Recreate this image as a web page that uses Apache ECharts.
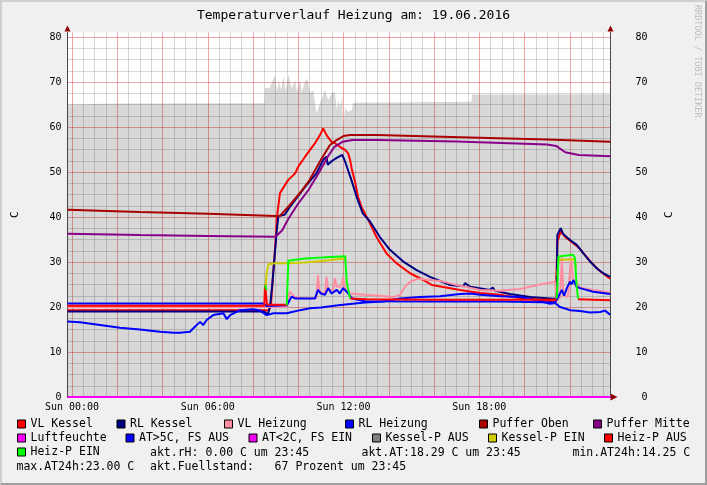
<!DOCTYPE html>
<html><head><meta charset="utf-8">
<script src="https://cdn.jsdelivr.net/npm/echarts@6/dist/echarts.min.js"></script>
<style>
html,body{margin:0;padding:0;background:#F0F0F0}
#wrap{position:relative;width:707px;height:485px}
#c{width:707px;height:485px}
#b{position:absolute;left:0;top:0;width:707px;height:485px;box-sizing:border-box;border-top:2px solid #CFCFCF;border-left:2px solid #CFCFCF;border-right:2px solid #9E9E9E;border-bottom:2px solid #9E9E9E;pointer-events:none}
</style>
</head><body>
<div id="wrap"><div id="c"></div><div id="b"></div></div>
<script>
// ---------- data (time in hours of 19.06.2016, value in C / %) ----------
const xLabelValues = [0, 6, 12, 18];
const xLabelTexts = ['Sun 00:00', 'Sun 06:00', 'Sun 12:00', 'Sun 18:00'];
const yLabelValues = [0, 10, 20, 30, 40, 50, 60, 70, 80];

const fuellstand = [[-0.2,65.0],[2.0,65.2],[4.0,65.2],[6.5,65.3],[8.5,65.3],[8.53,68.6],[8.75,68.8],[8.97,71.6],[9.05,68.0],[9.15,70.1],[9.24,68.2],[9.34,71.2],[9.45,68.0],[9.56,71.6],[9.62,70.5],[9.71,68.6],[9.86,70.4],[9.94,67.8],[10.08,70.4],[10.15,67.8],[10.3,70.1],[10.37,70.8],[10.44,70.0],[10.52,67.5],[10.66,68.2],[10.74,65.3],[10.81,63.0],[10.9,64.5],[11.04,66.4],[11.18,68.2],[11.25,67.0],[11.33,66.0],[11.48,67.5],[11.62,67.8],[11.7,63.8],[11.77,66.0],[11.84,64.5],[11.95,66.7],[11.98,60.0],[12.01,61.6],[12.07,64.2],[12.21,63.4],[12.36,63.8],[12.43,65.4],[15.0,65.5],[17.65,65.6],[17.68,67.2],[23.8,67.3]];

const vlKessel = [[-0.2,19.3],[4.0,19.3],[8.5,19.3],[8.7,19.2],[8.8,21.0],[8.9,28.0],[9.0,35.0],[9.05,39.7],[9.19,45.3],[9.55,48.2],[9.86,49.7],[10.0,51.2],[10.3,53.4],[10.52,54.9],[10.74,56.4],[10.96,58.2],[11.1,59.7],[11.25,58.2],[11.47,56.7],[11.62,56.4],[11.84,55.6],[12.07,54.9],[12.2,54.2],[12.29,52.7],[12.36,50.8],[12.51,47.8],[12.64,44.5],[12.8,42.2],[13.1,39.3],[13.45,35.6],[13.9,31.9],[14.35,29.7],[14.94,27.5],[15.53,26.0],[15.9,24.9],[17.15,23.8],[18.04,23.1],[18.92,22.7],[19.8,22.0],[20.68,21.6],[21.38,21.1],[21.45,34.5],[21.6,36.8],[21.8,35.5],[22.1,34.4],[22.4,33.2],[22.7,31.4],[23.0,29.6],[23.3,28.1],[23.78,26.3]];

const rlKessel = [[-0.2,19.0],[4.0,19.0],[8.5,19.0],[8.65,18.3],[8.75,20.0],[8.85,25.0],[8.95,31.0],[9.05,37.0],[9.12,40.2],[9.4,40.5],[9.6,42.0],[9.9,44.0],[10.3,46.7],[10.8,49.7],[11.1,52.7],[11.25,53.4],[11.3,51.6],[11.45,52.3],[11.65,53.0],[11.8,53.4],[11.95,53.8],[12.1,51.9],[12.35,48.2],[12.6,44.2],[12.85,40.8],[13.17,39.0],[13.6,35.6],[14.05,32.7],[14.64,30.1],[15.23,28.2],[15.82,26.7],[16.71,24.9],[17.3,24.6],[17.37,25.3],[17.6,24.5],[18.47,23.8],[18.6,24.3],[18.7,23.6],[19.36,22.9],[20.24,22.2],[21.42,21.8],[21.45,36.0],[21.6,37.5],[21.71,36.2],[22.01,34.9],[22.31,33.8],[22.6,31.9],[22.9,30.1],[23.19,28.6],[23.48,27.5],[23.78,26.7]];

const vlHeizung = [[-0.2,20.0],[9.5,20.0],[9.56,22.0],[9.62,23.4],[9.7,23.8],[9.83,22.3],[10.3,21.9],[10.8,22.0],[10.87,27.1],[10.94,23.4],[11.18,23.0],[11.25,26.7],[11.32,23.8],[11.55,23.8],[11.62,26.4],[11.7,24.5],[11.9,24.5],[11.98,26.7],[12.06,24.5],[12.29,23.0],[12.95,22.7],[13.6,22.5],[14.2,22.2],[14.5,22.7],[14.7,24.4],[14.94,25.6],[15.3,26.3],[16.26,25.8],[17.15,24.7],[18.04,23.8],[18.92,23.6],[19.8,24.0],[20.68,25.0],[21.35,25.6],[21.42,21.9],[21.57,22.0],[21.65,31.0],[21.72,22.5],[21.92,22.3],[22.05,31.0],[22.15,26.0],[22.3,25.3],[22.45,24.3],[23.04,23.8],[23.78,23.2]];

const rlHeizung = [[-0.2,20.8],[8.45,20.8],[8.6,20.2],[9.5,20.4],[9.7,22.3],[9.86,21.9],[10.74,21.9],[10.87,23.8],[11.0,23.0],[11.18,22.7],[11.32,24.2],[11.47,23.0],[11.7,23.8],[11.84,23.0],[11.98,24.2],[12.14,23.4],[12.38,21.9],[12.95,21.3],[16.0,21.2],[19.0,21.2],[21.35,21.0],[21.5,22.3],[21.65,23.8],[21.75,22.5],[21.87,24.2],[22.01,25.6],[22.08,25.0],[22.16,26.0],[22.3,24.5],[22.45,24.2],[23.04,23.4],[23.78,22.9]];

const pufferOben = [[-0.2,41.6],[3.0,41.1],[6.0,40.7],[9.0,40.2],[9.2,40.3],[9.6,42.5],[10.1,45.5],[10.5,48.2],[11.0,52.7],[11.4,56.0],[11.7,57.1],[12.0,58.0],[12.3,58.2],[13.5,58.2],[18.0,57.6],[21.0,57.2],[23.8,56.7]];

const pufferMitte = [[-0.2,36.3],[3.0,36.0],[6.0,35.8],[9.0,35.6],[9.3,37.1],[9.55,39.5],[10.0,43.0],[10.45,46.0],[10.9,49.7],[11.3,53.4],[11.6,55.6],[11.95,56.7],[12.4,57.1],[13.5,57.1],[17.0,56.8],[21.0,56.1],[21.4,55.8],[21.8,54.4],[22.4,53.8],[23.8,53.5]];

const luftfeuchte = [[-0.2,0],[23.8,0]];

const aussen = [[-0.2,16.8],[0.35,16.6],[1.24,16.0],[2.12,15.4],[3.0,15.0],[3.89,14.5],[4.5,14.3],[4.77,14.3],[5.21,14.5],[5.43,15.6],[5.66,16.7],[5.8,16.0],[5.95,17.1],[6.24,18.2],[6.69,18.6],[6.84,17.3],[6.99,18.2],[7.42,19.3],[8.01,19.5],[8.31,19.2],[8.6,18.2],[8.9,18.6],[9.49,18.6],[10.08,19.3],[10.52,19.7],[11.0,19.9],[11.77,20.4],[12.51,20.8],[12.95,21.0],[13.76,21.2],[14.5,21.9],[15.38,22.2],[16.26,22.4],[17.15,22.9],[17.6,23.0],[18.04,22.7],[18.92,22.4],[19.8,22.2],[20.24,21.8],[20.68,21.3],[21.13,20.7],[21.35,20.9],[21.57,20.0],[22.01,19.3],[22.45,19.1],[22.9,18.8],[23.34,18.9],[23.56,19.2],[23.78,18.3]];

const aussenKalt = [];
const kesselPAus = [];

const kesselPEin = [[8.53,23.0],[8.6,27.5],[8.68,29.5],[8.97,29.7],[9.56,29.7],[10.3,29.9],[11.04,30.2],[12.07,30.8],[12.12,30.8],[12.13,null],[21.45,27.0],[21.5,30.5],[22.2,30.6],[22.28,29.0]];

const heizPAus = [[-0.2,20.3],[8.5,20.3],[8.53,25.0],[8.58,24.6],[8.62,20.5],[9.52,20.5],[9.53,null],[12.29,21.9],[13.0,21.7],[16.0,21.6],[19.0,21.6],[21.42,21.6],[21.44,null],[22.36,21.7],[23.78,21.5]];

const heizPEin = [[8.52,24.9],[8.6,23.8],[8.61,null],[9.49,20.4],[9.56,30.3],[10.3,30.8],[11.04,31.0],[12.07,31.3],[12.14,25.6],[12.29,21.9],[12.3,null],[21.42,21.9],[21.45,24.9],[21.5,31.2],[21.57,31.6],[22.14,31.6],[22.23,30.9],[22.3,25.0],[22.36,21.9]];

const infoRow3 = ['akt.rH: 0.00 C um 23:45', 'akt.AT:18.29 C um 23:45', 'min.AT24h:14.25 C'];
const infoRow4 = ['max.AT24h:23.00 C', 'akt.Fuellstand:   67 Prozent um 23:45'];

// ---------- chart ----------
const FONT = '"DejaVu Sans Mono", monospace';
const xMin = -0.2, xMax = 23.8, yMin = 0, yMax = 81;
const xMajor = [], xMinor = [], yMajor = [], yMinor = [];
for (let h = 0; h < 24; h += 0.5) { if (h % 2 === 0) xMajor.push(h); else xMinor.push(h); }
for (let v = 0; v <= 80; v += 2.5) { if (v % 10 === 0) yMajor.push(v); else yMinor.push(v); }

const AXIS = '#4A4A4A', ARROW = '#8B0000';
const MINOR = 'rgba(150,150,150,0.38)', MAJOR = 'rgba(225,60,60,0.45)';

function ln(name, data, color, extra) {
  return Object.assign({
    name, type: 'line', data, symbol: 'none', showSymbol: false,
    color, itemStyle: { color }, lineStyle: { color, width: 2 },
    animation: false, z: 2
  }, extra || {});
}

const series = [
  { name: 'Fuellstand', type: 'line', data: fuellstand, symbol: 'none', showSymbol: false,
    lineStyle: { width: 0, opacity: 0 }, areaStyle: { color: 'rgba(0,0,0,0.153)', opacity: 1 },
    animation: false, z: 1 },
  ln('VL Kessel', vlKessel, '#FF0000'),
  ln('RL Kessel', rlKessel, '#000080'),
  ln('VL Heizung', vlHeizung, '#FF8DA1'),
  ln('RL Heizung', rlHeizung, '#0000FF'),
  ln('Puffer Oben', pufferOben, '#AA0000'),
  ln('Puffer Mitte', pufferMitte, '#880088'),
  ln('Luftfeuchte', luftfeuchte, '#FF00FF', { clip: false }),
  ln('AT>5C, FS AUS', aussen, '#0000FF'),
  ln('AT<2C, FS EIN', aussenKalt, '#EE00EE'),
  ln('Kessel-P AUS', kesselPAus, '#808080'),
  ln('Kessel-P EIN', kesselPEin, '#CCCC00'),
  ln('Heiz-P AUS', heizPAus, '#FF0000'),
  ln('Heiz-P EIN', heizPEin, '#00FF00')
];

const legendSpots = [
  ['VL Kessel', 17, 418], ['RL Kessel', 116.5, 418], ['VL Heizung', 224, 418],
  ['RL Heizung', 345, 418], ['Puffer Oben', 479, 418], ['Puffer Mitte', 593, 418],
  ['Luftfeuchte', 17, 432], ['AT>5C, FS AUS', 125.5, 432], ['AT<2C, FS EIN', 248.5, 432],
  ['Kessel-P AUS', 372, 432], ['Kessel-P EIN', 488, 432], ['Heiz-P AUS', 604, 432],
  ['Heiz-P EIN', 17, 446]
];
const legends = legendSpots.map(([n, l, t]) => ({
  data: [n], left: l, top: t, padding: 0, itemGap: 0, itemWidth: 8, itemHeight: 8,
  icon: 'rect', selectedMode: false,
  itemStyle: { borderColor: '#000', borderWidth: 1 },
  textStyle: { fontFamily: FONT, fontSize: 11.5, color: '#000' }
}));

const txt = (s, x, y) => ({ type: 'text', x, y, silent: true,
  style: { text: s, font: '11.5px ' + FONT, fill: '#000', align: 'left', verticalAlign: 'middle' } });

const chart = echarts.init(document.getElementById('c'), null, { renderer: 'canvas' });
chart.setOption({
  backgroundColor: '#F0F0F0',
  animation: false,
  title: { text: 'Temperaturverlauf Heizung am: 19.06.2016', left: 'center', top: 9, padding: 0,
    textStyle: { fontFamily: FONT, fontSize: 13, fontWeight: 'normal', color: '#000' } },
  grid: { left: 67.5, right: 96.5, top: 32.5, bottom: 88, show: true, backgroundColor: '#FFFFFF', borderWidth: 0 },
  legend: legends,
  xAxis: [
    { type: 'value', min: xMin, max: xMax, position: 'bottom', z: 1,
      axisLine: { show: true, onZero: false, lineStyle: { color: AXIS, width: 1 } },
      axisTick: { show: false, customValues: xMinor },
      axisLabel: { show: true, customValues: xLabelValues, margin: 5,
        formatter: v => xLabelTexts[xLabelValues.indexOf(v)] || '',
        fontFamily: FONT, fontSize: 10, color: '#000' },
      splitLine: { show: true, lineStyle: { color: MINOR, width: 1 } } },
    { type: 'value', min: xMin, max: xMax, position: 'bottom', z: 0,
      axisLine: { show: true, onZero: false, symbol: ['none', 'triangle'], symbolSize: [7, 7], symbolOffset: [0, 3.5],
        lineStyle: { color: ARROW, width: 1 } },
      axisTick: { show: false, customValues: xMajor },
      axisLabel: { show: false },
      splitLine: { show: true, lineStyle: { color: MAJOR, width: 1 } } }
  ],
  yAxis: [
    { type: 'value', min: yMin, max: yMax, position: 'left', z: 1,
      axisLine: { show: true, onZero: false, lineStyle: { color: AXIS, width: 1 } },
      axisTick: { show: false, customValues: yMinor },
      axisLabel: { show: true, customValues: yLabelValues, margin: 6, fontFamily: FONT, fontSize: 10, color: '#000' },
      splitLine: { show: true, lineStyle: { color: MINOR, width: 1 } },
      name: 'C', nameLocation: 'middle', nameGap: 47,
      nameTextStyle: { fontFamily: FONT, fontSize: 11, color: '#000' } },
    { type: 'value', min: yMin, max: yMax, position: 'left', z: 0,
      axisLine: { show: true, onZero: false, symbol: ['none', 'triangle'], symbolSize: [6, 6], symbolOffset: [0, 4],
        lineStyle: { color: ARROW, width: 1 } },
      axisTick: { show: false }, axisLabel: { show: false }, splitLine: { show: false } },
    { type: 'value', min: yMin, max: yMax, position: 'right', z: 1,
      axisLine: { show: true, onZero: false, lineStyle: { color: AXIS, width: 1 } },
      axisTick: { show: false, customValues: yMajor },
      axisLabel: { show: true, customValues: yLabelValues, margin: 37, align: 'right', fontFamily: FONT, fontSize: 10, color: '#000' },
      splitLine: { show: false },
      name: 'C', nameLocation: 'middle', nameGap: 53,
      nameTextStyle: { fontFamily: FONT, fontSize: 11, color: '#000' } },
    { type: 'value', min: yMin, max: yMax, position: 'right', z: 0,
      axisLine: { show: true, onZero: false, symbol: ['none', 'triangle'], symbolSize: [6, 6], symbolOffset: [0, 4],
        lineStyle: { color: ARROW, width: 1 } },
      axisTick: { show: false, customValues: yMajor }, axisLabel: { show: false },
      splitLine: { show: true, lineStyle: { color: MAJOR, width: 1 } } }
  ],
  graphic: [
    txt(infoRow3[0], 150, 453), txt(infoRow3[1], 361.5, 453), txt(infoRow3[2], 572.5, 453),
    txt(infoRow4[0], 16.5, 467), txt(infoRow4[1], 150, 467),
    { type: 'text', x: 697, y: 5, rotation: -Math.PI / 2, silent: true,
      style: { text: 'RRDTOOL / TOBI OETIKER', font: '8.5px ' + FONT, fill: '#BDBDBD', align: 'left', verticalAlign: 'middle' } }
  ],
  series
});
</script>
</body></html>
